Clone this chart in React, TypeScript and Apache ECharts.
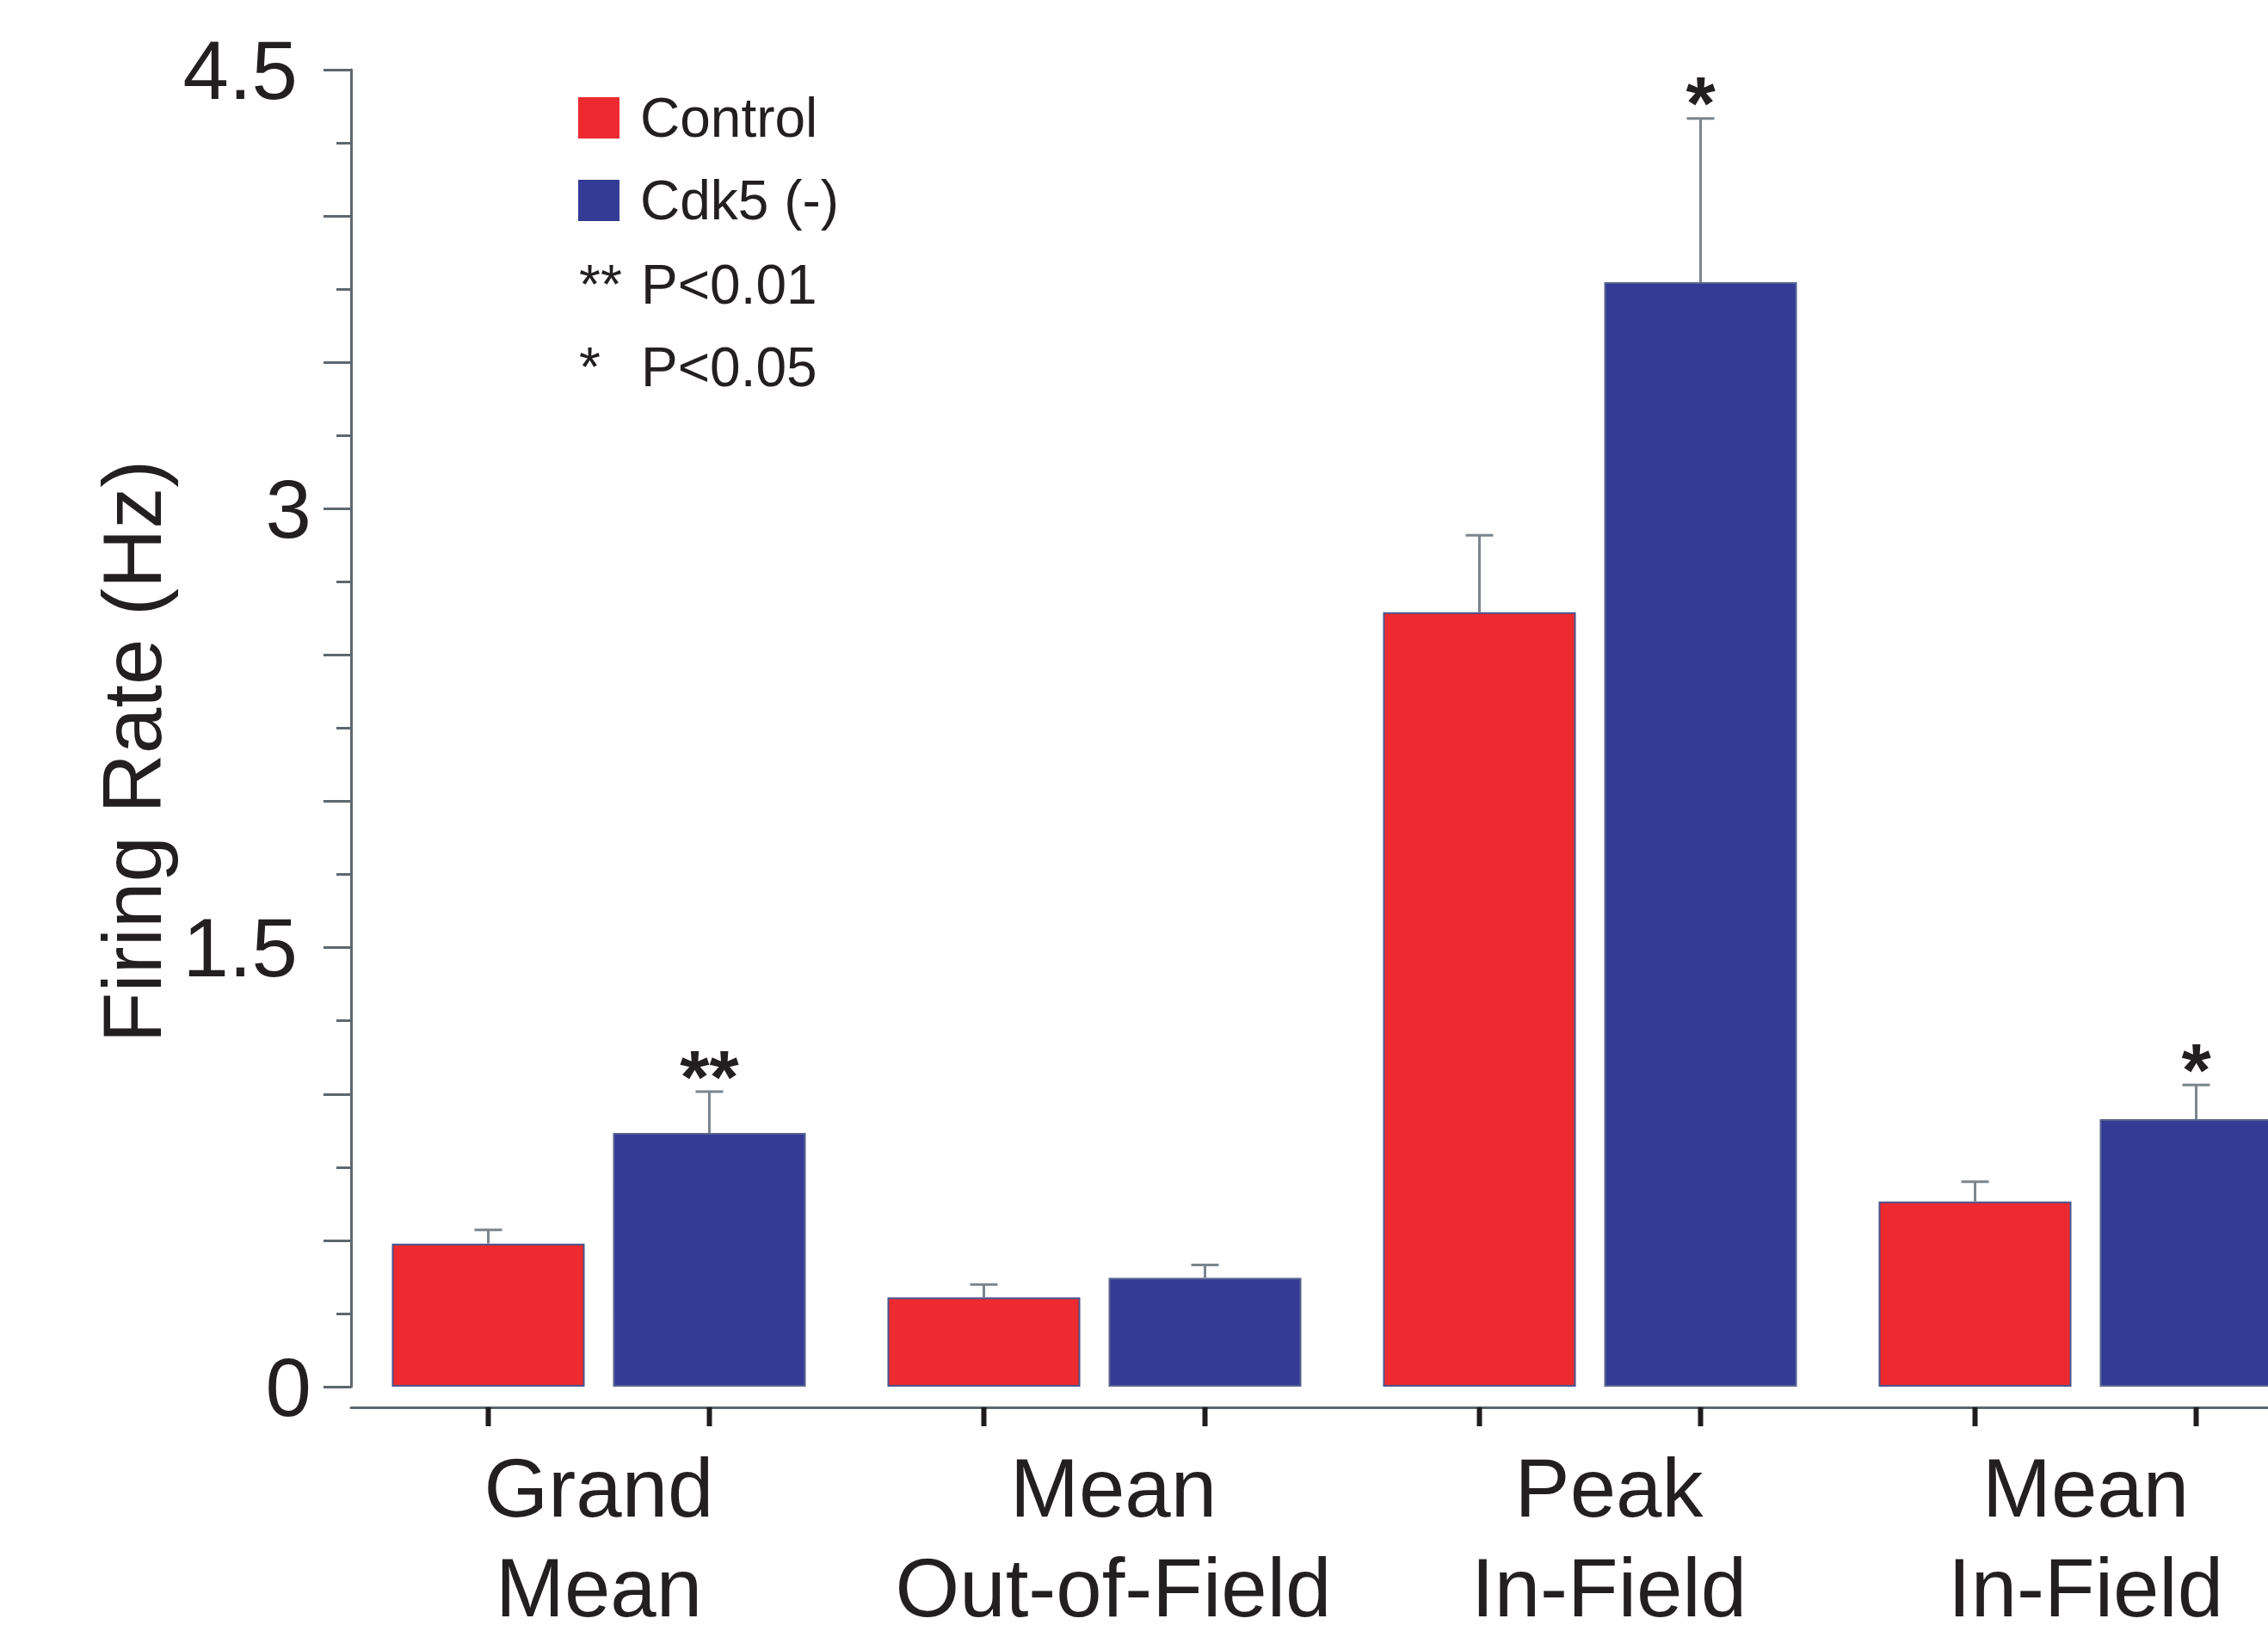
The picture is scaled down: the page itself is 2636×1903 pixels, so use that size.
import React, { useEffect, useRef } from "react";
import * as echarts from "echarts";

const categories = ["Grand\nMean", "Mean\nOut-of-Field", "Peak\nIn-Field", "Mean\nIn-Field"];
const controlMean = [0.489, 0.305, 2.646, 0.633];
const controlSem = [0.047, 0.044, 0.263, 0.067];
const cdk5Mean = [0.867, 0.372, 3.774, 0.914];
const cdk5Sem = [0.141, 0.044, 0.559, 0.117];
const controlSig = ["", "", "", ""];
const cdk5Sig = ["**", "", "*", "*"];
const yLabelTicks = [0, 1.5, 3, 4.5];
const seriesNames = ["Control", "Cdk5 (-)"];
const keyRows = [
  { mark: "**", text: "P<0.01" },
  { mark: "*", text: "P<0.05" },
];

const FONT = "Liberation Sans, Arial, Helvetica, sans-serif";
const TEXT = "#231f20";
const AXIS = "#5d676e";
const ERR = "#7b858d";
const RED = "#ec2a2f";
const BLUE = "#343b95";

const BAR_FRAC = 0.389;
const GAP_FRAC = 0.147;

function errorSeries(name: string, means: number[], sems: number[], sig: string[], side: number) {
  return {
    type: "custom",
    name,
    clip: false,
    z: 5,
    encode: { x: 0, y: 1 },
    data: means.map((m, i) => [i, m, sems[i]]),
    renderItem: (params: any, api: any) => {
      const idx = api.value(0);
      const mean = api.value(1);
      const sem = api.value(2);
      const band = api.size([1, 0])[0];
      const off = (side * band * (BAR_FRAC * (1 + GAP_FRAC))) / 2;
      const top = api.coord([idx, mean]);
      const cap = api.coord([idx, mean + sem]);
      const zero = api.coord([idx, 0]);
      const x = top[0] + off;
      const children: any[] = [
        {
          type: "line",
          shape: { x1: x, y1: top[1], x2: x, y2: cap[1] },
          style: { stroke: ERR, lineWidth: 3 },
        },
        {
          type: "line",
          shape: { x1: x - 16, y1: cap[1], x2: x + 16, y2: cap[1] },
          style: { stroke: ERR, lineWidth: 3 },
        },
        {
          type: "line",
          shape: { x1: x, y1: zero[1] + 24, x2: x, y2: zero[1] + 46 },
          style: { stroke: "#1f1c1d", lineWidth: 6 },
        },
      ];
      const s = sig[params.dataIndex];
      if (s) {
        children.push({
          type: "text",
          style: {
            text: s,
            x,
            y: cap[1] - 18,
            align: "center",
            verticalAlign: "middle",
            fontSize: 88,
            fontWeight: "bold",
            fontFamily: FONT,
            fill: TEXT,
          },
        });
      }
      return { type: "group", children };
    },
  };
}

export default function App() {
  const ref = useRef<HTMLDivElement>(null);

  useEffect(() => {
    document.body.style.margin = "0";
    if (!ref.current) return;
    const chart = echarts.init(ref.current, undefined, { renderer: "svg" });

    const keyGraphics: any[] = [];
    keyRows.forEach((r, i) => {
      const cy = 331 + i * 96;
      keyGraphics.push({
        type: "text",
        left: 673,
        top: cy - 32,
        style: { text: r.mark, fontSize: 64, fontFamily: FONT, fill: TEXT, lineHeight: 64 },
      });
      keyGraphics.push({
        type: "text",
        left: 745,
        top: cy - 32,
        style: { text: r.text, fontSize: 64, fontFamily: FONT, fill: TEXT, lineHeight: 64 },
      });
    });

    const option: any = {
      animation: false,
      backgroundColor: "#ffffff",
      grid: { left: 408, top: 81, width: 2304, height: 1540, containLabel: false },
      legend: {
        data: seriesNames,
        orient: "vertical",
        left: 667,
        top: 100,
        itemWidth: 48,
        itemHeight: 48,
        itemGap: 32,
        icon: "rect",
        itemStyle: { borderWidth: 0 },
        textStyle: {
          fontSize: 64,
          fontFamily: FONT,
          color: TEXT,
          padding: [0, 0, 0, 19],
        },
      },
      xAxis: {
        type: "category",
        data: categories.map((c, i) =>
          i === 1 || i === 2 ? { value: c, textStyle: { padding: [0, 0, 0, 44] } } : c
        ),
        boundaryGap: true,
        offset: 24,
        axisLine: { show: true, onZero: false, lineStyle: { color: AXIS, width: 3 } },
        axisTick: { show: false },
        splitLine: { show: false },
        axisLabel: {
          interval: 0,
          margin: 35,
          fontSize: 96,
          lineHeight: 116,
          fontFamily: FONT,
          color: TEXT,
          align: "center",
        },
      },
      yAxis: {
        type: "value",
        min: 0,
        max: 4.5,
        interval: 0.5,
        name: "Firing Rate (Hz)",
        nameLocation: "middle",
        nameRotate: 90,
        nameGap: 196,
        nameTextStyle: {
          fontSize: 96,
          fontFamily: FONT,
          color: TEXT,
          padding: [0, 54, 0, 0],
        },
        axisLine: { show: true, lineStyle: { color: AXIS, width: 3 } },
        axisTick: { show: true, length: 32, lineStyle: { color: AXIS, width: 3 } },
        minorTick: { show: true, splitNumber: 2, length: 17, lineStyle: { color: AXIS, width: 3 } },
        splitLine: { show: false },
        minorSplitLine: { show: false },
        axisLabel: {
          margin: 46,
          fontSize: 96,
          fontFamily: FONT,
          color: TEXT,
          formatter: (v: number) => {
            const hit = yLabelTicks.find((t) => Math.abs(t - v) < 1e-6);
            if (hit === undefined) return "";
            return Number.isInteger(hit) ? `{i|${hit}}` : `{d|${hit}}`;
          },
          rich: {
            i: { fontSize: 96, fontFamily: FONT, color: TEXT },
            d: { fontSize: 96, fontFamily: FONT, color: TEXT, padding: [0, 16, 0, 0] },
          },
        },
      },
      series: [
        {
          type: "bar",
          name: seriesNames[0],
          data: controlMean,
          barWidth: `${BAR_FRAC * 100}%`,
          barGap: `${GAP_FRAC * 100}%`,
          itemStyle: { color: RED, borderColor: "#4a568f", borderWidth: 2 },
        },
        {
          type: "bar",
          name: seriesNames[1],
          data: cdk5Mean,
          barWidth: `${BAR_FRAC * 100}%`,
          barGap: `${GAP_FRAC * 100}%`,
          itemStyle: { color: BLUE, borderColor: "#5a6590", borderWidth: 2 },
        },
        errorSeries("controlErr", controlMean, controlSem, controlSig, -1),
        errorSeries("cdk5Err", cdk5Mean, cdk5Sem, cdk5Sig, 1),
      ],
      graphic: keyGraphics,
    };

    chart.setOption(option);
    return () => chart.dispose();
  }, []);

  return (
    <div style={{ width: 2636, height: 1903, overflow: "hidden", position: "relative" }}>
      <div ref={ref} style={{ width: 2760, height: 1903 }} />
    </div>
  );
}
